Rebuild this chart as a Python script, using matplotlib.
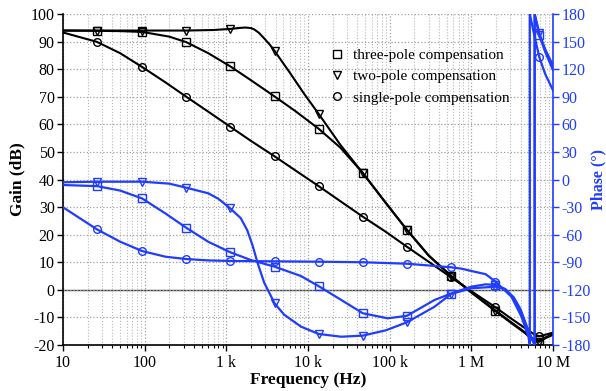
import numpy as np
import matplotlib
matplotlib.use("Agg")
import matplotlib.pyplot as plt
from matplotlib.lines import Line2D
from matplotlib.ticker import FixedLocator, FixedFormatter, LogLocator, NullFormatter

plt.rcParams['font.family'] = ['Liberation Serif', 'DejaVu Serif']
plt.rcParams['axes.unicode_minus'] = False

BLUE = '#1f3cff'

# marker frequencies (same on every curve)
mark_f = [26, 93, 323, 1120, 3900, 13500, 47000, 163000, 567000, 1.97e6, 6.8e6]

# gain, three-pole compensation
f_g3 = [10, 26, 50, 93, 200, 323, 600, 1120, 2000, 3900, 7000, 13500, 25000, 47000,
        90000, 163000, 300000, 567000, 1e6, 1.97e6, 3e6, 4.5e6, 6e6, 6.8e6, 8e6, 1e7]
g3 = [94.0, 93.9, 93.8, 93.5, 91.8, 89.8, 85.8, 81.0, 76.0, 70.1, 64.8, 58.4, 51.5, 42.3,
      31.5, 21.7, 12.5, 5.0, -0.8, -7.5, -11.5, -15.3, -18.3, -18.3, -17.3, -16.0]

# gain, two-pole compensation
f_g2 = [10, 26, 93, 323, 700, 1120, 1400, 1700, 2000, 2200, 2500, 2900, 3400, 3900, 6000, 9000,
        13500, 25000, 47000, 90000, 163000, 300000, 567000, 1e6, 1.97e6, 3e6, 4.5e6, 6e6,
        6.8e6, 8e6, 1e7]
g2 = [94.0, 94.0, 94.0, 94.0, 94.2, 94.6, 94.9, 95.1, 94.9, 94.4, 93.2, 91.2, 88.9, 86.6, 78.7,
      71.0, 63.8, 52.5, 42.3, 31.4, 21.7, 12.4, 5.0, -1.0, -7.7, -11.8, -15.6, -18.8,
      -18.8, -17.6, -16.3]

# gain, single-pole compensation
f_g1 = [10, 26, 50, 93, 180, 323, 600, 1120, 2000, 3900, 7000, 13500, 25000, 47000,
        90000, 163000, 300000, 567000, 1e6, 1.97e6, 3e6, 4.5e6, 6e6, 6.8e6, 8e6, 1e7]
g1 = [93.3, 89.9, 85.8, 80.8, 75.2, 70.0, 64.6, 59.1, 54.0, 48.4, 43.3, 37.6, 32.1, 26.5,
      21.0, 15.6, 10.2, 4.5, -0.5, -6.3, -10.2, -13.8, -16.3, -16.8, -16.3, -15.5]

# phase, three-pole compensation
f_p3 = [10, 26, 50, 93, 180, 323, 600, 1120, 2000, 3900, 8200, 13500, 25500, 47000, 95000,
        163000, 355000, 567000, 1e6, 1.5e6, 1.97e6, 2.6e6, 3.3e6, 4e6, 4.8e6, 5.96e6, 5.96e6,
        6.8e6, 8e6, 1e7]
p3 = [-6, -7.2, -12, -20.6, -37, -52.5, -67.7, -79.2, -87.6, -94.8, -105, -116, -131, -145.5, -151,
      -148.2, -131, -124, -116.6, -114, -114.7, -119, -129, -143, -162, -180, 180,
      157, 139, 119]

# phase, two-pole compensation
f_p2 = [10, 26, 93, 200, 323, 600, 800, 1120, 1500, 1800, 2100, 2400, 2900, 3900, 5100, 8200,
        13500, 25500, 47000, 90000, 163000, 355000, 567000, 1e6, 1.97e6, 2.6e6, 3.3e6, 4e6,
        4.8e6, 5.96e6, 5.96e6, 6.8e6, 8e6, 1e7]
p2 = [-3, -2.4, -2.4, -4.5, -8.9, -15, -21, -31.5, -42, -55, -72, -90, -112, -134.7, -147, -160,
      -168, -171, -169.8, -164, -155.3, -138.3, -124.5, -118.3, -116.6, -119.5, -128, -141,
      -160, -180, 180, 159, 142, 124]

# phase, single-pole compensation
f_p1 = [10, 26, 50, 93, 180, 323, 600, 1120, 3900, 13500, 47000, 163000, 567000, 760000, 1e6,
        1.5e6, 1.97e6, 3.1e6, 4.1e6, 5e6, 5.2e6, 5.2e6, 6e6, 6.8e6, 8e6, 1e7]
p1 = [-30.2, -54.2, -67.6, -77.8, -84, -86.5, -88, -88.6, -89, -89.4, -90, -91.6, -95.5, -97, -99.5,
      -103, -111, -127.5, -149, -171, -180, 180, 154, 133, 115, 97]

xtick_vals = [10, 100, 1e3, 1e4, 1e5, 1e6, 1e7]
xtick_labels = ['10', '100', '1 k', '10 k', '100 k', '1 M', '10 M']

fig = plt.figure(figsize=(6.06, 3.91), dpi=100)
ax = fig.add_axes([63/606, 1 - 345/391, (553 - 63)/606, (345 - 14)/391])
ax2 = ax.twinx()

ax.set_xscale('log')
ax.set_xlim(10, 1e7)
ax.set_ylim(-20, 100)
ax2.set_ylim(-180, 180)

ax.grid(True, which='major', axis='both', linestyle=':', color='#a0a0a0', linewidth=0.9)
ax.grid(True, which='minor', axis='x', linestyle=':', color='#b8b8b8', linewidth=0.8)
ax.axhline(0, color='#444444', linewidth=1.0, zorder=1.5)

def mask(f):
    return list(np.isin(np.array(f, dtype=float), np.array(mark_f, dtype=float)))

mk = dict(markersize=5.5, markerfacecolor='none', markeredgewidth=1.0)
for f, v, m in [(f_g3, g3, 's'), (f_g2, g2, 'v'), (f_g1, g1, 'o')]:
    ax.plot(f, v, color='black', linewidth=1.5, marker=m, markevery=mask(f),
            markeredgecolor='black', **mk)
for f, v, m in [(f_p3, p3, 's'), (f_p2, p2, 'v'), (f_p1, p1, 'o')]:
    ax2.plot(f, v, color=BLUE, linewidth=1.6, marker=m, markevery=mask(f),
             markeredgecolor=BLUE, **mk)

ax.xaxis.set_major_locator(FixedLocator(xtick_vals))
ax.xaxis.set_major_formatter(FixedFormatter(xtick_labels))
ax.xaxis.set_minor_locator(LogLocator(base=10, subs=np.arange(2, 10)))
ax.xaxis.set_minor_formatter(NullFormatter())
ax.set_yticks(np.arange(-20, 101, 10))
ax2.set_yticks(np.arange(-180, 181, 30))

ax.tick_params(axis='both', which='major', direction='out', length=4, width=1,
               labelsize=11.5, pad=2)
ax.tick_params(axis='x', which='minor', direction='out', length=2.5, width=0.8)
ax.tick_params(axis='x', which='major', pad=3)
ax2.tick_params(axis='y', direction='out', length=4, width=1, colors=BLUE,
                labelsize=11.5, pad=2)

for a in (ax, ax2):
    a.spines['top'].set_visible(False)
ax.spines['right'].set_visible(False)
ax2.spines['right'].set_color(BLUE)
ax2.spines['right'].set_linewidth(1.2)
ax2.spines['left'].set_visible(False)
ax2.spines['bottom'].set_visible(False)
ax.spines['left'].set_linewidth(1.2)
ax.spines['bottom'].set_linewidth(1.2)

ax.set_xlabel('Frequency (Hz)', fontsize=12.5, fontweight='bold', labelpad=1)
ax.set_ylabel('Gain (dB)', fontsize=12.5, fontweight='bold', labelpad=4)
ax2.set_ylabel('Phase (°)', fontsize=11.5, fontweight='bold', color=BLUE, labelpad=0)

handles = [Line2D([], [], color='black', linestyle='none', marker=m, markersize=5.5,
                  markerfacecolor='none', markeredgewidth=1.0) for m in ['s', 'v', 'o']]
leg = ax2.legend(handles, ['three-pole compensation', 'two-pole compensation',
                           'single-pole compensation'],
                 loc='upper left', bbox_to_anchor=(0.535, 0.915), frameon=False,
                 fontsize=11, handlelength=0.8, handletextpad=0.6, labelspacing=0.5,
                 borderaxespad=0)

fig.savefig('out.png', dpi=100)
